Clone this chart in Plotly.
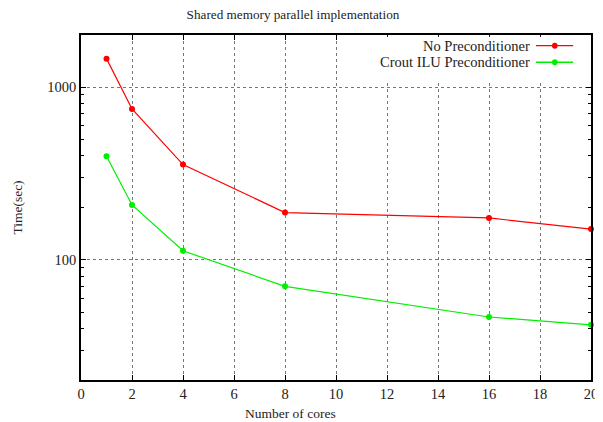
import plotly.graph_objects as go

cores = [1, 2, 4, 8, 16, 20]
no_precond = [1460, 747, 356, 188, 175, 151]
crout_ilu = [398, 208, 113, 70.4, 46.8, 42.2]
series_names = ["No Preconditioner", "Crout ILU Preconditioner"]
series_colors = ["#ff0000", "#00ee00"]
x_ticks = list(range(0, 21, 2))
y_ticks = [100, 1000]

FONT = "Liberation Serif"

fig = go.Figure()
for name, ys, col in zip(series_names, [no_precond, crout_ilu], series_colors):
    fig.add_trace(go.Scatter(
        x=cores, y=ys, mode="lines+markers", name=name,
        line=dict(color=col, width=1.2),
        marker=dict(color=col, size=6, symbol="circle"),
        showlegend=False, cliponaxis=False,
    ))

# manual gnuplot-style legend (text right-aligned, sample on the right)
fig.add_shape(type="rect", xref="paper", yref="paper", x0=0.6, x1=0.995, y0=0.865, y1=0.995,
              fillcolor="white", line=dict(width=0), layer="above")
leg_y = [0.969, 0.921]
for name, col, ly in zip(series_names, series_colors, leg_y):
    fig.add_annotation(xref="paper", yref="paper", x=0.885, y=ly, text=name, showarrow=False,
                       xanchor="right", yanchor="middle", font=dict(family=FONT, size=14.5, color="#222"))
    fig.add_shape(type="line", xref="paper", yref="paper", x0=0.892, x1=0.965, y0=ly, y1=ly,
                  line=dict(color=col, width=1.5 if col == "#00ee00" else 1.2), layer="above")
    fig.add_shape(type="circle", xref="paper", yref="paper", x0=0.9235, x1=0.9345,
                  y0=ly - 0.0085, y1=ly + 0.0085, fillcolor=col, line=dict(width=0), layer="above")

# x-axis label, centred on the canvas like gnuplot does
fig.add_annotation(xref="paper", yref="paper", x=0.410, y=-0.096, text="Number of cores",
                   showarrow=False, xanchor="center", yanchor="middle",
                   font=dict(family=FONT, size=13.5, color="#222"))

fig.update_layout(
    width=595, height=414,
    margin=dict(l=73, r=5, t=27, b=42),
    paper_bgcolor="white", plot_bgcolor="white",
    font=dict(family=FONT, size=13, color="#222"),
    title=dict(text="Shared memory parallel implementation", x=0.479, xanchor="center",
               y=0.985, yanchor="middle", font=dict(family=FONT, size=13.2, color="#222")),
    xaxis=dict(
        range=[0, 20], tickmode="array", tickvals=x_ticks, ticktext=[str(v) for v in x_ticks],
        tickfont=dict(family=FONT, size=14.5, color="#222"), ticklabeloverflow="allow",
        ticks="inside", ticklen=5, tickcolor="#000", mirror="allticks",
        showline=True, linecolor="#000", linewidth=1.5,
        showgrid=True, gridcolor="#777", griddash="dot", gridwidth=1,
        zeroline=False,
    ),
    yaxis=dict(
        type="log", range=[1.306, 3.301],
        tickmode="array", tickvals=y_ticks, ticktext=[str(v) for v in y_ticks],
        tickfont=dict(family=FONT, size=14.5, color="#222"),
        ticks="inside", ticklen=5, tickcolor="#000", mirror="allticks",
        showline=True, linecolor="#000", linewidth=1.5,
        showgrid=True, gridcolor="#777", griddash="dot", gridwidth=1,
        zeroline=False,
        minor=dict(ticks="inside", ticklen=3, tickcolor="#000", showgrid=False,
                   tickvals=[20, 30, 40, 50, 60, 70, 80, 90, 200, 300, 400, 500, 600, 700, 800, 900, 2000]),
        title=dict(text="Time(sec)", font=dict(family=FONT, size=13.5), standoff=22),
    ),
)

fig.write_html("out.html")
